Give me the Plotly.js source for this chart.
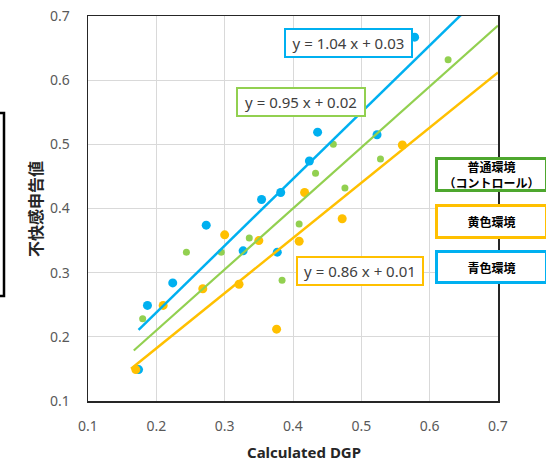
<!DOCTYPE html>
<html>
<head>
<meta charset="utf-8">
<script src="https://cdn.plot.ly/plotly-3.0.1.min.js"></script>
<style>
  html, body { margin: 0; padding: 0; background: #ffffff; }
  #chart { width: 546px; height: 464px; }
</style>
</head>
<body>
<div id="chart"></div>
<script>
// Calculated DGP (x) vs. reported discomfort (y) for three lighting environments
const seriesNames = ['普通環境（コントロール）', '黄色環境', '青色環境'];

// 青色環境
const blueX = [0.174, 0.187, 0.224, 0.273, 0.327, 0.354, 0.377, 0.382, 0.424, 0.436, 0.523, 0.578];
const blueY = [0.149, 0.249, 0.284, 0.374, 0.334, 0.414, 0.332, 0.425, 0.474, 0.519, 0.515, 0.667];

// 普通環境（コントロール）
const greenX = [0.180, 0.244, 0.295, 0.336, 0.384, 0.409, 0.433, 0.459, 0.476, 0.528, 0.627];
const greenY = [0.228, 0.332, 0.332, 0.354, 0.288, 0.376, 0.455, 0.500, 0.432, 0.477, 0.632];

// 黄色環境
const yellowX = [0.170, 0.210, 0.268, 0.300, 0.321, 0.350, 0.376, 0.409, 0.417, 0.472, 0.560];
const yellowY = [0.149, 0.249, 0.275, 0.359, 0.282, 0.350, 0.212, 0.349, 0.425, 0.384, 0.499];

// Linear trendlines: order blue, green, yellow
const fitSlope = [1.04, 0.95, 0.86];
const fitIntercept = [0.03, 0.02, 0.01];
const fitStartX = [0.174, 0.167, 0.163];
const fitEndX = [0.7, 0.7, 0.7];

const axisTicks = [0.1, 0.2, 0.3, 0.4, 0.5, 0.6, 0.7];

const BLUE = '#00b0f0';
const GREEN = '#92d050';
const GREEN_DARK = '#4ea72e';
const YELLOW = '#ffc000';

function fitLine(i) {
  const xs = [fitStartX[i], fitEndX[i]];
  return { x: xs, y: xs.map(v => fitSlope[i] * v + fitIntercept[i]) };
}
function equation(i) {
  return 'y = ' + fitSlope[i].toFixed(2) + ' x + ' + fitIntercept[i].toFixed(2);
}

const W = 546, H = 464;
const M = { l: 88, r: 48, t: 16, b: 63 };
const PW = W - M.l - M.r, PH = H - M.t - M.b;
const px = v => (v - M.l) / PW;
const py = v => (H - M.b - v) / PH;

const blueFit = fitLine(0), greenFit = fitLine(1), yellowFit = fitLine(2);

const traces = [
  { type: 'scatter', mode: 'markers', name: seriesNames[2], x: blueX, y: blueY,
    marker: { color: BLUE, size: 9 }, showlegend: false, cliponaxis: false },
  { type: 'scatter', mode: 'markers', name: seriesNames[0], x: greenX, y: greenY,
    marker: { color: GREEN, size: 7 }, showlegend: false, cliponaxis: false },
  { type: 'scatter', mode: 'markers', name: seriesNames[1], x: yellowX, y: yellowY,
    marker: { color: YELLOW, size: 9 }, showlegend: false, cliponaxis: false },
  { type: 'scatter', mode: 'lines', x: blueFit.x, y: blueFit.y,
    line: { color: BLUE, width: 2.5 }, showlegend: false, hoverinfo: 'skip' },
  { type: 'scatter', mode: 'lines', x: greenFit.x, y: greenFit.y,
    line: { color: GREEN, width: 2.2 }, showlegend: false, hoverinfo: 'skip' },
  { type: 'scatter', mode: 'lines', x: yellowFit.x, y: yellowFit.y,
    line: { color: YELLOW, width: 2.5 }, showlegend: false, hoverinfo: 'skip' }
];

const tickFont = { family: '"Noto Sans", sans-serif', size: 14, color: '#595959' };
const eqFont = { family: '"Noto Sans", sans-serif', size: 15, color: '#404040' };
const legFont = { family: '"Noto Sans CJK JP", sans-serif', size: 12, color: '#000000', weight: 'bold' };

function eqBox(i, cx, cy, w, color) {
  return {
    xref: 'paper', yref: 'paper', x: px(cx), y: py(cy),
    xanchor: 'center', yanchor: 'middle', showarrow: false,
    text: equation(i), font: eqFont, width: w, height: 26,
    bgcolor: '#ffffff', bordercolor: color, borderwidth: 2, borderpad: 0
  };
}
function legendBox(text, cy, h, color) {
  return {
    xref: 'paper', yref: 'paper', x: px(491.5), y: py(cy),
    xanchor: 'center', yanchor: 'middle', showarrow: false,
    text: text, font: legFont, width: 107, height: h,
    bgcolor: '#ffffff', bordercolor: color, borderwidth: 3, borderpad: 0, align: 'center'
  };
}

const layout = {
  width: W, height: H,
  margin: M,
  paper_bgcolor: '#ffffff', plot_bgcolor: '#ffffff',
  showlegend: false,
  xaxis: {
    range: [0.1, 0.7], tickvals: axisTicks, tickformat: '.1f',
    showgrid: true, gridcolor: '#d9d9d9', gridwidth: 1,
    zeroline: false, showline: true, mirror: true, linecolor: '#262626', linewidth: 1.5,
    ticks: '', ticklabelstandoff: 12, tickfont: tickFont
  },
  yaxis: {
    range: [0.1, 0.7], tickvals: axisTicks, tickformat: '.1f',
    showgrid: true, gridcolor: '#d9d9d9', gridwidth: 1,
    zeroline: false, showline: true, mirror: true, linecolor: '#262626', linewidth: 1.5,
    ticks: '', ticklabelstandoff: 14, tickfont: tickFont
  },
  shapes: [
    { type: 'rect', xref: 'paper', yref: 'paper', layer: 'above',
      x0: px(-10), x1: px(4), y0: py(296), y1: py(113),
      line: { color: '#000000', width: 2.5 }, fillcolor: 'rgba(0,0,0,0)' }
  ],
  annotations: [
    eqBox(0, 348.5, 43, 125, BLUE),
    eqBox(1, 301, 102, 126, GREEN),
    eqBox(2, 360, 271, 124, YELLOW),
    legendBox('普通環境<br>（コントロール）', 174.5, 29, GREEN_DARK),
    legendBox('黄色環境', 221.5, 29, YELLOW),
    legendBox('青色環境', 267, 28, BLUE),
    { xref: 'paper', yref: 'paper', x: px(304), y: py(452), xanchor: 'center', yanchor: 'middle',
      showarrow: false, text: 'Calculated DGP',
      font: { family: '"Noto Sans", sans-serif', size: 15, color: '#262626', weight: 'bold' } },
    { xref: 'paper', yref: 'paper', x: px(35), y: py(209), xanchor: 'center', yanchor: 'middle',
      showarrow: false, text: '不快感申告値', textangle: -90,
      font: { family: '"Noto Sans CJK JP", sans-serif', size: 16, color: '#262626', weight: 'bold' } }
  ]
};

Plotly.newPlot('chart', traces, layout, { displayModeBar: false, staticPlot: true });
</script>
</body>
</html>
